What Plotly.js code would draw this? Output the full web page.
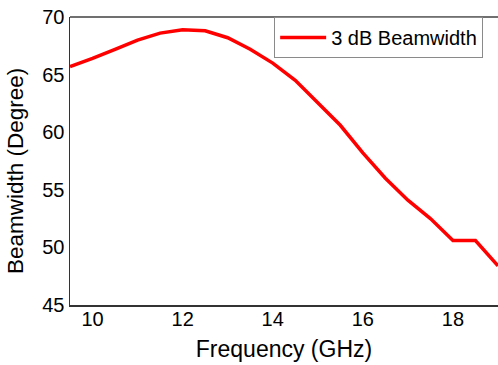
<!DOCTYPE html>
<html>
<head>
<meta charset="utf-8">
<script src="https://cdn.plot.ly/plotly-3.0.1.min.js"></script>
<style>
  html, body { margin: 0; padding: 0; background: #fff; }
  #chart { width: 498px; height: 365px; }
</style>
</head>
<body>
<div id="chart"></div>
<script>
// 3 dB beamwidth versus frequency
const frequencyGHz = [9.5, 10, 10.5, 11, 11.5, 12, 12.5, 13, 13.5, 14, 14.5, 15, 15.5, 16, 16.5, 17, 17.5, 18, 18.5, 19];
const beamwidthDeg = [65.7, 66.4, 67.2, 68.0, 68.6, 68.9, 68.8, 68.2, 67.2, 66.0, 64.5, 62.6, 60.6, 58.2, 56.0, 54.1, 52.5, 50.6, 50.6, 48.4];
const xTicks = [10, 12, 14, 16, 18];
const yTicks = [45, 50, 55, 60, 65, 70];
const xTitle = "Frequency (GHz)";
const yTitle = "Beamwidth (Degree)";

const font = "Liberation Sans, Arial, sans-serif";

const trace = {
  x: frequencyGHz,
  y: beamwidthDeg,
  type: "scatter",
  mode: "lines",
  name: "3 dB Beamwidth",
  line: { color: "#ff0000", width: 3.5 }
};

const layout = {
  width: 498,
  height: 365,
  margin: { l: 70, r: 0, t: 17, b: 60 },
  paper_bgcolor: "#ffffff",
  plot_bgcolor: "#ffffff",
  font: { family: font, color: "#000" },
  showlegend: true,
  legend: {
    x: 0.477, y: 1, xanchor: "left", yanchor: "top",
    bgcolor: "#ffffff",
    bordercolor: "#8a8a8a",
    borderwidth: 1,
    itemwidth: 46,
    font: { family: font, size: 20, color: "#000" },
    tracegroupgap: 0
  },
  xaxis: {
    range: [9.5, 19],
    tickvals: xTicks,
    ticks: "",
    ticklabelstandoff: -5,
    showgrid: false,
    zeroline: false,
    showline: true,
    linecolor: "#333",
    linewidth: 1.5,
    tickfont: { family: font, size: 20, color: "#000" },
    title: { text: xTitle, font: { family: font, size: 23, color: "#000" }, standoff: 12 }
  },
  yaxis: {
    range: [45, 70],
    tickvals: yTicks,
    ticks: "",
    showgrid: false,
    zeroline: false,
    showline: true,
    linecolor: "#333",
    linewidth: 1.5,
    tickfont: { family: font, size: 20, color: "#000" }
  },
  annotations: [
    {
      // vertical axis title, placed further out than the axis title allows
      text: yTitle, textangle: -90, showarrow: false,
      xref: "paper", yref: "paper", x: 0, y: 0.5,
      xanchor: "center", yanchor: "middle",
      xshift: -55, yshift: -10,
      font: { family: font, size: 22.5, color: "#000" }
    }
  ],
  shapes: [
    {
      type: "line", xref: "paper", yref: "paper",
      x0: 0, x1: 1, y0: 1, y1: 1,
      line: { color: "#707070", width: 2 }
    }
  ]
};

Plotly.newPlot("chart", [trace], layout, { displayModeBar: false, staticPlot: true });
</script>
</body>
</html>
